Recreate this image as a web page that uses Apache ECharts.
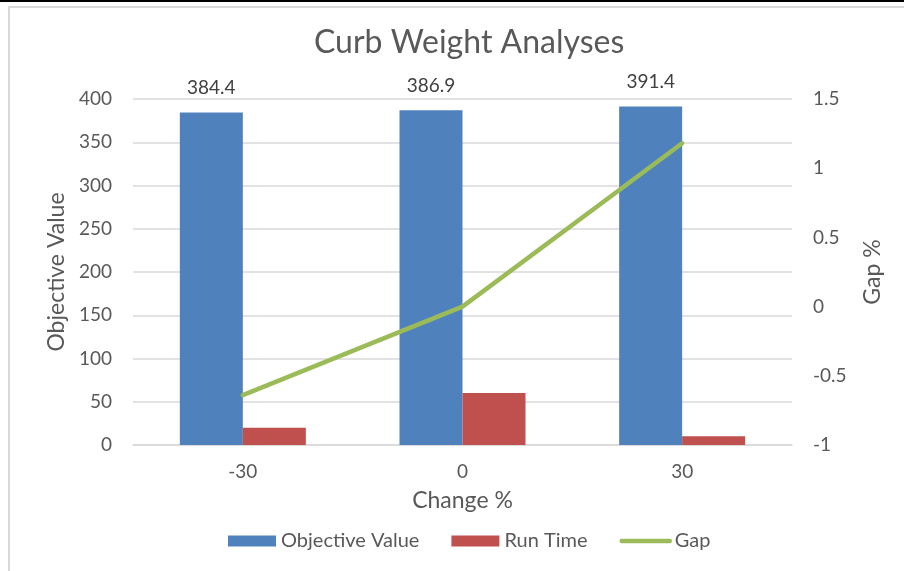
<!DOCTYPE html>
<html>
<head>
<meta charset="utf-8">
<script src="https://cdn.jsdelivr.net/npm/echarts@6/dist/echarts.min.js"></script>
<style>
html,body{margin:0;padding:0;background:#fff;}
#chart{width:904px;height:571px;}
</style>
</head>
<body>
<div id="chart"></div>
<script>
const categories = ['-30', '0', '30'];
const objectiveValue = [384.4, 386.9, 391.4];
const runTime = [20, 60, 10];
const gap = [-0.64, 0, 1.18];
const leftTicks = {min: 0, max: 400, interval: 50};
const rightTicks = {min: -1, max: 1.5, interval: 0.5};

const FONT = 'Lato';
const TXT = '#595959';
const chart = echarts.init(document.getElementById('chart'), null, {renderer: 'canvas'});
chart.setOption({
  backgroundColor: '#ffffff',
  textStyle: {fontFamily: FONT},
  graphic: [
    {type: 'rect', shape: {x: 0, y: 0, width: 904, height: 2}, style: {fill: '#000'}, silent: true},
    {type: 'rect', shape: {x: 8, y: 6, width: 896, height: 2}, style: {fill: '#D9D9D9'}, silent: true},
    {type: 'rect', shape: {x: 8, y: 6, width: 2, height: 565}, style: {fill: '#D9D9D9'}, silent: true}
  ],
  title: {
    text: 'Curb Weight Analyses',
    left: 309, top: 22,
    textStyle: {fontFamily: FONT, fontSize: 32, fontWeight: 'normal', color: TXT}
  },
  legend: {
    bottom: 15, left: 223,
    itemWidth: 48, itemHeight: 11, itemGap: 32,
    textStyle: {fontFamily: FONT, fontSize: 20, color: TXT},
    data: [
      {name: 'Objective Value', icon: 'rect'},
      {name: 'Run Time', icon: 'rect'},
      {name: 'Gap', itemStyle: {opacity: 0}, lineStyle: {width: 4.5, color: '#9BBB59', cap: 'round'}}
    ]
  },
  grid: {left: 133, right: 112, top: 99, bottom: 126},
  xAxis: {
    type: 'category', data: categories,
    name: 'Change %', nameLocation: 'middle', nameGap: 44,
    nameTextStyle: {fontFamily: FONT, fontSize: 23, color: TXT},
    axisLine: {lineStyle: {color: '#D9D9D9', width: 1.5}},
    axisTick: {show: false},
    axisLabel: {fontFamily: FONT, fontSize: 19, color: TXT, margin: 17}
  },
  yAxis: [
    {
      type: 'value', min: leftTicks.min, max: leftTicks.max, interval: leftTicks.interval,
      name: 'Objective Value', nameLocation: 'middle', nameGap: 64, nameRotate: 90,
      nameTextStyle: {fontFamily: FONT, fontSize: 23, color: TXT},
      axisLine: {show: false}, axisTick: {show: false},
      axisLabel: {fontFamily: FONT, fontSize: 19, color: TXT, margin: 21},
      splitLine: {lineStyle: {color: '#D9D9D9', width: 1.5}}
    },
    {
      type: 'value', min: rightTicks.min, max: rightTicks.max, interval: rightTicks.interval,
      name: 'Gap %', nameLocation: 'middle', nameGap: 69, nameRotate: 90,
      nameTextStyle: {fontFamily: FONT, fontSize: 23, color: TXT},
      axisLine: {show: false}, axisTick: {show: false},
      axisLabel: {fontFamily: FONT, fontSize: 19, color: TXT, margin: 21},
      splitLine: {show: false}
    }
  ],
  series: [
    {
      name: 'Objective Value', type: 'bar', data: objectiveValue,
      barWidth: 63, barGap: '0%',
      itemStyle: {color: '#4F81BD'},
      label: {show: true, position: 'top', distance: 15, fontFamily: FONT, fontSize: 19, color: '#404040'}
    },
    {
      name: 'Run Time', type: 'bar', data: runTime,
      barWidth: 63, barGap: '0%',
      itemStyle: {color: '#C0504D'}
    },
    {
      name: 'Gap', type: 'line', yAxisIndex: 1, data: gap,
      symbol: 'none', showSymbol: false,
      lineStyle: {color: '#9BBB59', width: 4.5, cap: 'round'},
      itemStyle: {color: '#9BBB59'}
    }
  ]
});
</script>
</body>
</html>
